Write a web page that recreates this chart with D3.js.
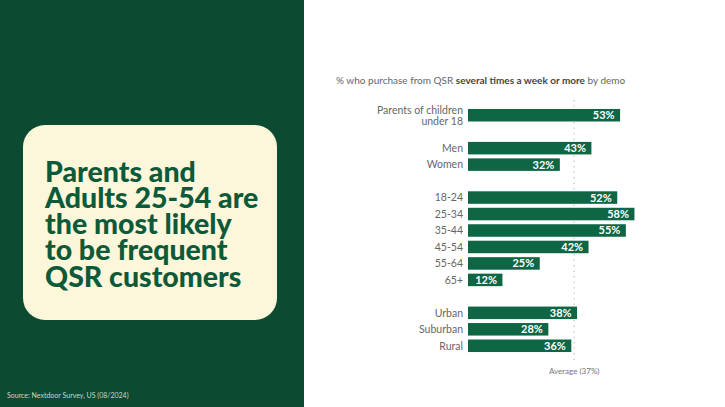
<!DOCTYPE html>
<html><head><meta charset="utf-8">
<script src="https://cdn.jsdelivr.net/npm/d3@7/dist/d3.min.js"></script>
<style>
html,body{margin:0;padding:0;background:#fff;}
svg{display:block;font-family:Lato,"Open Sans",sans-serif;}
</style></head>
<body>
<svg id="c" width="725" height="407"></svg>
<script>
// ---- data ----
const categories = ["Parents of children|under 18", "_g1", "Men", "Women", "_g2", "18-24", "25-34", "35-44", "45-54", "55-64", "65+", "_g3", "Urban", "Suburban", "Rural"];
const values = [53, null, 43, 32, null, 52, 58, 55, 42, 25, 12, null, 38, 28, 36];
const averageValue = 37;
const headlineLines = ["Parents and", "Adults 25-54 are", "the most likely", "to be frequent", "QSR customers"];
const sourceText = "Source: Nextdoor Survey, US (08/2024)";

const svg = d3.select("#c");
const W = 725, H = 407;

// left panel
svg.append("rect").attr("x",0).attr("y",0).attr("width",304).attr("height",H).attr("fill","#0c4a32");
svg.append("rect").attr("x",23).attr("y",125).attr("width",254).attr("height",195).attr("rx",22).attr("fill","#fcf6da");
const hl = svg.append("text").attr("fill","#0d5a3a").attr("font-weight",900).attr("font-size",28.5);
headlineLines.forEach((t,i)=>{
  hl.append("tspan").attr("x",45).attr("y",181.5 + i*26.3).text(t);
});
svg.append("text").attr("x",7).attr("y",398).attr("font-size",7).attr("fill","#c9d6cc").text(sourceText);

// chart
const x = d3.scaleLinear().domain([0,100]).range([468, 468+287]);
const y = d3.scaleBand().domain(categories).range([107, 354]).paddingInner(0.24).paddingOuter(0.12);

// title
const title = svg.append("text").attr("x",336).attr("y",84).attr("font-size",10).attr("fill","#666");
title.append("tspan").text("% who purchase from QSR ");
title.append("tspan").attr("font-weight",700).attr("fill","#444").text("several times a week or more");
title.append("tspan").text(" by demo");

// average line (behind bars)
svg.append("line").attr("x1",x(averageValue)).attr("x2",x(averageValue))
  .attr("y1",100).attr("y2",362).attr("stroke","#c8c8c8").attr("stroke-width",1.2).attr("stroke-dasharray","1.5,4");

const data = categories.map((c,i)=>({c, v: values[i]})).filter(d=>d.v!==null);

svg.append("g").selectAll("rect").data(data).join("rect")
  .attr("x", x(0)).attr("y", d=>y(d.c)).attr("width", d=>x(d.v)-x(0)).attr("height", y.bandwidth())
  .attr("fill","#0e6645");

// value labels
svg.append("g").selectAll("text").data(data).join("text")
  .attr("x", d=>x(d.v)-5.5).attr("y", d=>y(d.c)+y.bandwidth()/2).attr("dy","0.36em")
  .attr("text-anchor","end").attr("font-size",11).attr("font-weight",700).attr("fill","#fff")
  .text(d=>d.v+"%");

// category labels
const lab = svg.append("g").selectAll("text").data(data).join("text")
  .attr("text-anchor","end").attr("font-size",10.5).attr("fill","#666");
lab.each(function(d){
  const parts = d.c.split("|");
  const t = d3.select(this);
  const cy = y(d.c)+y.bandwidth()/2;
  parts.forEach((p,i)=>{
    t.append("tspan").attr("x",463).attr("y", cy + (i-(parts.length-1)/2)*11).attr("dy","0.36em").text(p);
  });
});

svg.append("text").attr("x",x(averageValue)).attr("y",374).attr("text-anchor","middle")
  .attr("font-size",8).attr("fill","#777").text("Average (37%)");
</script>
</body></html>
